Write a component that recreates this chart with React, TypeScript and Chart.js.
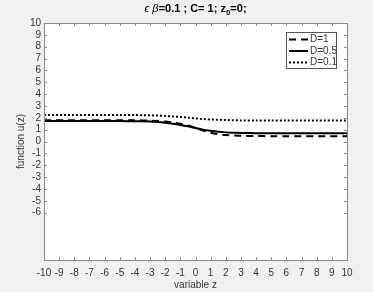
import React, { useEffect, useRef } from "react";
import { Chart, registerables } from "chart.js";

Chart.register(...registerables);

const zValues = [-10, -8, -6, -5, -4, -3.5, -3, -2.5, -2, -1.5, -1, -0.5, 0, 0.5, 1, 1.5, 2, 2.5, 3, 4, 5, 6, 8, 10];
const seriesD1 = [1.8, 1.8, 1.8, 1.8, 1.79, 1.78, 1.76, 1.73, 1.68, 1.6, 1.5, 1.36, 1.15, 0.92, 0.74, 0.62, 0.55, 0.51, 0.48, 0.46, 0.45, 0.45, 0.45, 0.45];
const seriesD05 = [1.72, 1.72, 1.72, 1.72, 1.71, 1.7, 1.68, 1.64, 1.58, 1.5, 1.4, 1.28, 1.14, 1.0, 0.9, 0.82, 0.77, 0.74, 0.72, 0.7, 0.7, 0.7, 0.7, 0.7];
const seriesD01 = [2.24, 2.24, 2.24, 2.24, 2.23, 2.22, 2.21, 2.19, 2.16, 2.12, 2.07, 2.01, 1.95, 1.9, 1.86, 1.83, 1.81, 1.79, 1.78, 1.77, 1.77, 1.77, 1.77, 1.77];
const seriesLabels = ["D=1", "D=0.5", "D=0.1"];
const yTickValues = [-6, -5, -4, -3, -2, -1, 0, 1, 2, 3, 4, 5, 6, 7, 8, 9, 10];
const xTickValues = [-10, -9, -8, -7, -6, -5, -4, -3, -2, -1, 0, 1, 2, 3, 4, 5, 6, 7, 8, 9, 10];

const FONT = "'Liberation Sans', Arial, Helvetica, sans-serif";
const TEXT = "#333333";
const AXIS = "#8a8a8a";

const matlabPlugin = {
  id: "matlabDecor",
  beforeDraw(chart: any) {
    const { ctx, chartArea: a } = chart;
    ctx.save();
    ctx.fillStyle = "#f0f0f0";
    ctx.fillRect(0, 0, chart.width, chart.height);
    ctx.fillStyle = "#ffffff";
    ctx.fillRect(a.left, a.top, a.right - a.left, a.bottom - a.top);
    ctx.restore();
  },
  afterDraw(chart: any) {
    const { ctx, chartArea: a, scales } = chart;
    ctx.save();
    ctx.strokeStyle = AXIS;
    ctx.lineWidth = 1;
    ctx.strokeRect(Math.round(a.left) + 0.5, Math.round(a.top) + 0.5, Math.round(a.right - a.left), Math.round(a.bottom - a.top));
    // inward ticks
    const tl = 3;
    ctx.beginPath();
    xTickValues.forEach((v) => {
      const x = Math.round(scales.x.getPixelForValue(v)) + 0.5;
      ctx.moveTo(x, a.bottom);
      ctx.lineTo(x, a.bottom - tl);
      ctx.moveTo(x, a.top);
      ctx.lineTo(x, a.top + tl);
    });
    yTickValues.forEach((v) => {
      const y = Math.round(scales.y.getPixelForValue(v)) + 0.5;
      ctx.moveTo(a.left, y);
      ctx.lineTo(a.left + tl, y);
      ctx.moveTo(a.right, y);
      ctx.lineTo(a.right - tl, y);
    });
    ctx.stroke();

    // title with subscript
    const cx = (a.left + a.right) / 2;
    const ty = 9;
    const parts: any[] = [
      { t: "\u03F5 ", f: `italic 11px ${FONT}`, dy: 0 },
      { t: "\u03B2", f: `italic 11px ${FONT}`, dy: 0 },
      { t: "=0.1 ; C= 1; z", f: `bold 11px ${FONT}`, dy: 0 },
      { t: "0", f: `bold 8px ${FONT}`, dy: 4 },
      { t: "=0;", f: `bold 11px ${FONT}`, dy: 0 },
    ];
    let total = 0;
    parts.forEach((p) => {
      ctx.font = p.f;
      p.w = ctx.measureText(p.t).width;
      total += p.w;
    });
    let x = cx - total / 2;
    ctx.fillStyle = "#000000";
    ctx.textBaseline = "middle";
    ctx.textAlign = "left";
    parts.forEach((p) => {
      ctx.font = p.f;
      ctx.fillText(p.t, x, ty + p.dy);
      x += p.w;
    });

    // legend
    const lx0 = 286, ly0 = 32, lw = 50, lh = 36;
    ctx.fillStyle = "#ffffff";
    ctx.fillRect(lx0, ly0, lw, lh);
    ctx.strokeStyle = "#555555";
    ctx.lineWidth = 1;
    ctx.strokeRect(lx0 + 0.5, ly0 + 0.5, lw, lh);
    chart.data.datasets.forEach((ds: any, i: number) => {
      const y = ly0 + 7.5 + i * 11.5;
      ctx.beginPath();
      ctx.strokeStyle = "#000000";
      ctx.lineWidth = ds.borderWidth;
      ctx.setLineDash(ds.borderDash || []);
      ctx.moveTo(lx0 + 3, y);
      ctx.lineTo(lx0 + 22, y);
      ctx.stroke();
      ctx.setLineDash([]);
      ctx.font = `10px ${FONT}`;
      ctx.fillStyle = TEXT;
      ctx.textBaseline = "middle";
      ctx.fillText(ds.label, lx0 + 24, y);
    });
    ctx.restore();
  },
};

export default function App() {
  const ref = useRef<HTMLCanvasElement>(null);
  useEffect(() => {
    const mk = (vals: number[]) => zValues.map((z, i) => ({ x: z, y: vals[i] }));
    const chart = new Chart(ref.current as HTMLCanvasElement, {
      type: "line",
      data: {
        datasets: [
          { label: seriesLabels[0], data: mk(seriesD1), borderColor: "#000", borderWidth: 2, borderDash: [7, 5], pointRadius: 0, tension: 0.3, fill: false },
          { label: seriesLabels[1], data: mk(seriesD05), borderColor: "#000", borderWidth: 2, pointRadius: 0, tension: 0.3, fill: false },
          { label: seriesLabels[2], data: mk(seriesD01), borderColor: "#000", borderWidth: 2, borderDash: [2, 2], pointRadius: 0, tension: 0.3, fill: false },
        ],
      },
      options: {
        animation: false,
        responsive: false,
        maintainAspectRatio: false,
        layout: { padding: { left: 0, right: 26, top: 23, bottom: 0 } },
        plugins: { legend: { display: false }, title: { display: false }, tooltip: { enabled: false } },
        scales: {
          x: {
            type: "linear",
            min: -10,
            max: 10,
            afterBuildTicks: (s: any) => { s.ticks = xTickValues.map((v) => ({ value: v })); },
            afterFit: (s: any) => { s.height = 32; },
            grid: { display: false, drawTicks: false },
            border: { display: false },
            ticks: { autoSkip: false, maxRotation: 0, padding: 7, color: TEXT, font: { family: FONT, size: 10 } },
            title: { display: true, text: "variable z", color: TEXT, font: { family: FONT, size: 10 }, padding: { top: 0, bottom: 1 } },
          },
          y: {
            type: "linear",
            min: -10,
            max: 10,
            afterBuildTicks: (s: any) => { s.ticks = yTickValues.map((v) => ({ value: v })); },
            afterFit: (s: any) => { s.width = 44; },
            grid: { display: false, drawTicks: false },
            border: { display: false },
            ticks: { autoSkip: false, padding: 3, color: TEXT, font: { family: FONT, size: 10 } },
            title: { display: true, text: "function u(z)", color: TEXT, font: { family: FONT, size: 10 }, padding: { top: 15, bottom: 0 } },
          },
        },
      } as any,
      plugins: [matlabPlugin],
    });
    return () => chart.destroy();
  }, []);
  return (
    <div style={{ position: "fixed", left: 0, top: 0, width: 373, height: 292, background: "#f0f0f0" }}>
      <canvas ref={ref} width={373} height={292} style={{ display: "block", width: 373, height: 292 }} />
    </div>
  );
}
